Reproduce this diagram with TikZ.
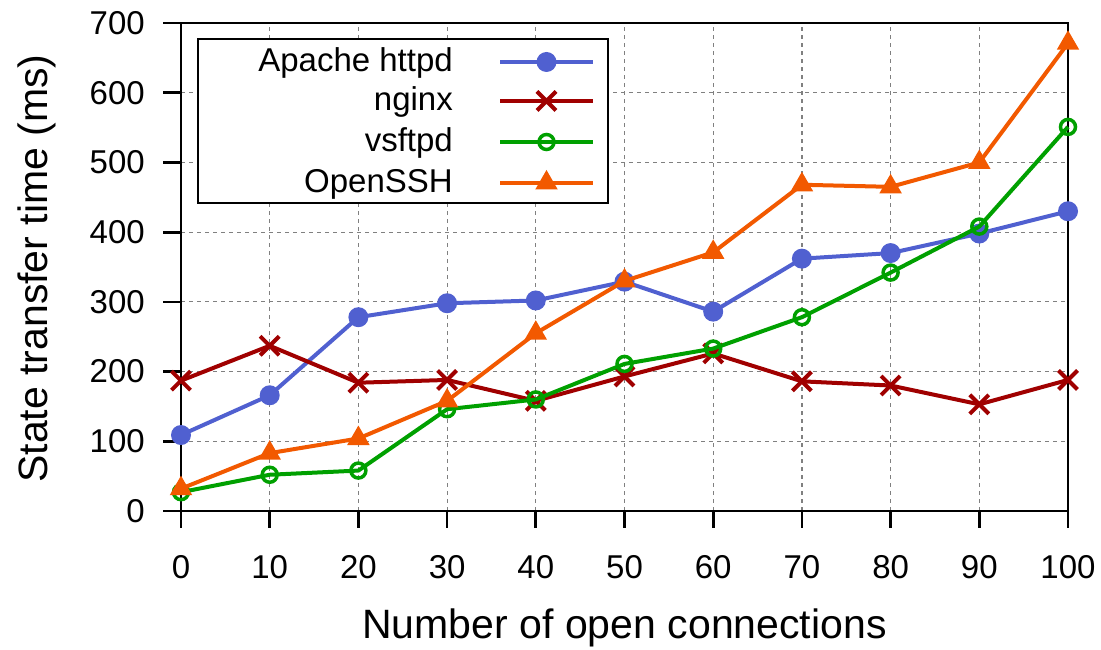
\documentclass[tikz,border=0pt]{standalone}
\usepackage{fontspec}
\setmainfont{Liberation Sans}
\usetikzlibrary{calc,shapes.geometric,shapes.misc}
\definecolor{srvBlue}{HTML}{5060D0}
\definecolor{srvRed}{HTML}{A00000}
\definecolor{srvGreen}{HTML}{00A000}
\definecolor{srvOrange}{HTML}{F25900}
\definecolor{srvGrid}{HTML}{808080}
\tikzset{
  frame/.style={draw=black, line width=2.7bp},
  gridline/.style={draw=srvGrid, line width=1.2bp, dash pattern=on 4bp off 4bp},
  ticklbl/.style={inner sep=0pt, font=\fontsize{33bp}{40bp}\selectfont},
  axlbl/.style={inner sep=0pt, font=\fontsize{41bp}{48bp}\selectfont},
  legtext/.style={anchor=base east, inner sep=0pt, font=\fontsize{33bp}{40bp}\selectfont},
  apline/.style={draw=srvBlue, line width=4bp, line join=round},
  ngline/.style={draw=srvRed, line width=4bp, line join=round},
  vsline/.style={draw=srvGreen, line width=4bp, line join=round},
  osline/.style={draw=srvOrange, line width=4bp, line join=round},
  apmark/.style={circle, fill=srvBlue, minimum size=20bp, inner sep=0pt},
  ngmark/.style={cross out, draw=srvRed, line width=4bp, minimum size=15bp, inner sep=0pt},
  vsmark/.style={circle, draw=srvGreen, line width=3.5bp, minimum size=15bp, inner sep=0pt},
  osmark/.style={regular polygon, regular polygon sides=3, fill=srvOrange,
                 minimum size=26bp, inner sep=0pt},
}

\begin{document}
\begin{tikzpicture}[x=8.87bp, y=0.6971bp]
  \useasboundingbox (-181bp,-139bp) rectangle (920bp,511bp);
  % grid
  \foreach \v in {100,200,...,600}{
    \draw[gridline] (0,\v) -- (100,\v);
  }
  \foreach \x in {10,20,...,90}{
    \draw[gridline] (\x,0) -- (\x,700);
  }
  % frame and ticks
  \draw[frame] (0,0) rectangle (100,700);
  \foreach \v in {0,100,...,700}{
    \draw[frame] (0,\v) -- ++(-18bp,0);
    \node[ticklbl, anchor=east] (yl\v) at ([xshift=-36bp]0,\v) {\v};
  }
  \foreach \x in {0,10,...,100}{
    \draw[frame] (\x,0) -- ++(0,-17bp);
    \node[ticklbl, anchor=north] (xl\x) at ([yshift=-44bp]\x,0) {\x};
  }
  \node[axlbl, anchor=base] (xtitle) at (443.5bp,-127bp) {Number of open connections};
  \node[axlbl, anchor=base, rotate=90] (ytitle) at (-133bp,242.5bp) {State transfer time (ms)};

  % Apache httpd
  \foreach \i/\v in {0/109,1/166,2/278,3/298,4/302,5/329,6/286,7/362,8/370,9/398,10/430}{
    \coordinate (ap\i) at (10*\i,\v);
  }
  \draw[apline] (ap0) \foreach \i in {1,...,10}{ -- (ap\i)};
  \foreach \i in {0,...,10}{ \node[apmark] (apm\i) at (ap\i) {}; }
  % nginx
  \foreach \i/\v in {0/187,1/237,2/184,3/188,4/158,5/193,6/226,7/186,8/180,9/153,10/188}{
    \coordinate (ng\i) at (10*\i,\v);
  }
  \draw[ngline] (ng0) \foreach \i in {1,...,10}{ -- (ng\i)};
  \foreach \i in {0,...,10}{ \node[ngmark] (ngm\i) at (ng\i) {}; }
  % vsftpd
  \foreach \i/\v in {0/27,1/52,2/58,3/146,4/160,5/211,6/233,7/278,8/342,9/408,10/551}{
    \coordinate (vs\i) at (10*\i,\v);
  }
  \draw[vsline] (vs0) \foreach \i in {1,...,10}{ -- (vs\i)};
  \foreach \i in {0,...,10}{ \node[vsmark] (vsm\i) at (vs\i) {}; }
  % OpenSSH
  \foreach \i/\v in {0/32,1/83,2/104,3/158,4/255,5/330,6/371,7/468,8/465,9/500,10/671}{
    \coordinate (os\i) at (10*\i,\v);
  }
  \draw[osline] (os0) \foreach \i in {1,...,10}{ -- (os\i)};
  \foreach \i in {0,...,10}{ \node[osmark] (osm\i) at (os\i) {}; }

  % key
  \draw[frame, fill=white] (17bp,472bp) rectangle (427bp,308bp);
  \node[legtext] (lgap) at (272bp,439bp) {Apache httpd};
  \node[legtext] (lgng) at (272bp,400bp) {nginx};
  \node[legtext] (lgvs) at (272bp,359bp) {vsftpd};
  \node[legtext] (lgos) at (272bp,318bp) {OpenSSH};
  \coordinate (kap1) at (319bp,449bp); \coordinate (kap2) at (412bp,449bp);
  \coordinate (kng1) at (319bp,410bp); \coordinate (kng2) at (412bp,410bp);
  \coordinate (kvs1) at (319bp,369bp); \coordinate (kvs2) at (412bp,369bp);
  \coordinate (kos1) at (319bp,328bp); \coordinate (kos2) at (412bp,328bp);
  \draw[apline] (kap1) -- (kap2);
  \node[apmark] (kapm) at ($(kap1)!0.5!(kap2)$) {};
  \draw[ngline] (kng1) -- (kng2);
  \node[ngmark] (kngm) at ($(kng1)!0.5!(kng2)$) {};
  \draw[vsline] (kvs1) -- (kvs2);
  \node[vsmark] (kvsm) at ($(kvs1)!0.5!(kvs2)$) {};
  \draw[osline] (kos1) -- (kos2);
  \node[osmark] (kosm) at ($(kos1)!0.5!(kos2)$) {};
\end{tikzpicture}
\end{document}
